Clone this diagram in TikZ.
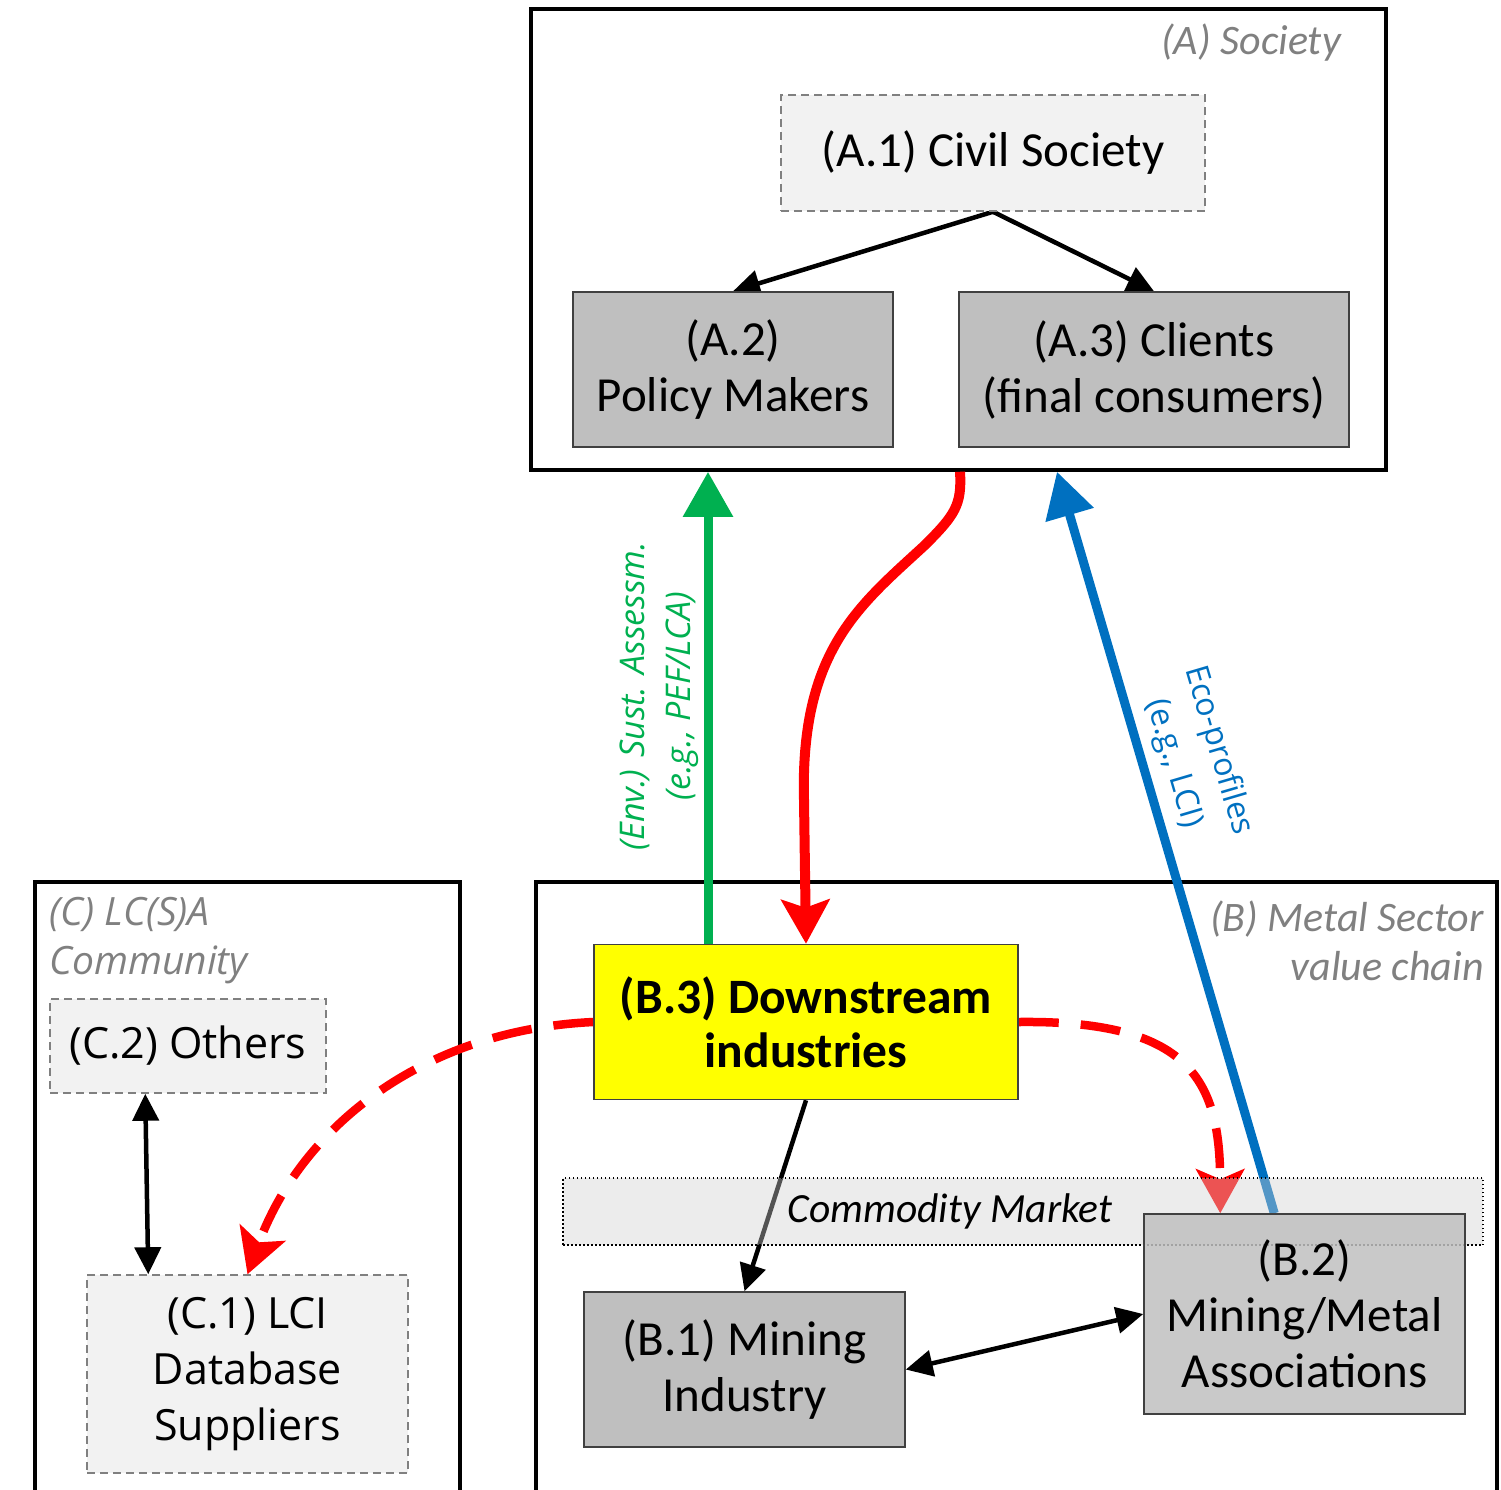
\documentclass[tikz,border=0pt]{standalone}
\usepackage{fontspec}
\setmainfont{Carlito}
\newfontfamily\osans{Open Sans}
\usetikzlibrary{arrows.meta,calc}
\definecolor{boxgray}{HTML}{BFBFBF}
\definecolor{lightbox}{HTML}{F2F2F2}
\definecolor{labgray}{HTML}{808080}
\definecolor{grn}{HTML}{00B050}
\definecolor{blu}{HTML}{0070C0}
\definecolor{bandfill}{HTML}{D0D0D0}
\definecolor{yel}{HTML}{FFFF00}
\pgfdeclarelayer{bg}
\pgfdeclarelayer{mid}
\pgfsetlayers{bg,mid,main}
\begin{document}
\begin{tikzpicture}[x=1pt,y=-1pt,
  graybox/.style={draw=black!75, line width=1.5pt, fill=boxgray, inner sep=0pt, align=center, font=\fontsize{49}{56}\selectfont},
  dashbox/.style={draw=labgray, dash pattern=on 8pt off 5pt, line width=1.5pt, fill=lightbox, inner sep=0pt, align=center},
  frame/.style={draw=black, line width=3.5pt},
  blk/.style={line width=4.5pt, -{Triangle[length=27pt,width=26pt]}},
  dblk/.style={line width=4.5pt, {Triangle[length=27pt,width=26pt]}-{Triangle[length=27pt,width=26pt]}},
  grplabel/.style={text=labgray, font=\fontsize{42}{49}\selectfont\itshape, inner sep=0pt},
  redsolid/.style={line width=10pt, red, -{Stealth[length=44pt,width=48pt,inset=8pt]}},
  reddash/.style={line width=8.5pt, red, dash pattern=on 40pt off 22pt, -{Stealth[length=44pt,width=48pt,inset=10pt]}},
  grnarrow/.style={line width=9pt, grn, -{Triangle[length=45pt,width=48pt]}},
  bluarrow/.style={line width=9pt, blu, -{Triangle[length=45pt,width=48pt]}},
]
\useasboundingbox (0,0) rectangle (1501,1489);

% ---- nodes (main layer)
\node[dashbox, minimum width=424pt, minimum height=116pt, font=\fontsize{49}{56}\selectfont] (a1) at (993,153) {(A.1) Civil Society};
\node[graybox, minimum width=320pt, minimum height=155pt] (a2) at (733,369.5) {(A.2)\\Policy Makers};
\node[graybox, minimum width=390pt, minimum height=155pt] (a3) at (1154,369.5) {(A.3) Clients\\(final consumers)};
\node[grplabel, anchor=east] (alab) at (1341,43) {(A) Society};

\node[graybox, fill=yel, minimum width=424pt, minimum height=155pt, font=\fontsize{49.5}{54}\selectfont\bfseries] (b3) at (806,1022) {(B.3) Downstream\\industries};
\node[graybox, minimum width=321pt, minimum height=155pt] (b1) at (744.5,1369.5) {(B.1) Mining\\Industry};
\node[graybox, minimum width=321pt, minimum height=200pt, fill opacity=0.85, text opacity=1] (b2) at (1304.5,1314) {(B.2)\\Mining/Metal\\Associations};
\node[grplabel, anchor=east, align=right] (blab) at (1484,941) {(B) Metal Sector\\value chain};

\node[dashbox, minimum width=276pt, minimum height=94pt, font=\osans\fontsize{43}{56}\selectfont] (c2) at (188,1046) {(C.2) Others};
\node[dashbox, minimum width=321pt, minimum height=198pt, font=\osans\fontsize{43}{56}\selectfont] (c1) at (247.5,1374) {(C.1) LCI\\Database\\Suppliers};
\node[text=labgray, font=\osans\itshape\fontsize{39}{49}\selectfont, anchor=west, align=left, inner sep=0pt] (clab) at (49,941) {(C) LC(S)A\\Community};

\node[rotate=90, text=grn, font=\osans\itshape\fontsize{34}{46}\selectfont, align=center, inner sep=0pt] (glab) at (659,696) {(Env.) Sust. Assessm.\\(e.g., PEF/LCA)};
\node[rotate=-73.6, text=blu, font=\osans\fontsize{32}{46}\selectfont, align=center, inner sep=0pt] (elab) at (1196,757) {Eco-profiles\\(e.g., LCI)};

\coordinate (gx) at (708,0);
\coordinate (rx) at (960,0);
\coordinate (bx) at (1057,0);

% ---- frames and connectors (background)
\begin{pgfonlayer}{bg}
\node[frame, minimum width=855pt, minimum height=461pt, inner sep=0pt] (boxA) at (958.5,239.5) {};
\draw[frame] (536,1495) -- (536,882) -- (1497,882) -- (1497,1495);
\draw[frame] (35,1495) -- (35,882) -- (460,882) -- (460,1495);

\draw[blk] (a1.south) -- (a2.north);
\draw[blk] (a1.south) -- (a3.north);
\draw[blk] (b3.south) -- (b1.north);
\draw[dblk] (b1.east) -- (b2.west);
\draw[dblk] ($(c2.south west)+(96,0)$) -- ($(c1.north west)+(62,0)$);

\draw[grnarrow] (b3.north -| gx) -- (boxA.south -| gx);
\draw[bluarrow] ($(b2.north west)+(131,0)$) -- (boxA.south -| bx);
\draw[redsolid] (boxA.south -| rx) .. controls (962,505) and (955,515) .. (925,545)
   .. controls (860,605) and (800,650) .. (804,800) -- (b3.north);
\draw[reddash] (b3.east) .. controls (1190,1020) and (1220,1080) .. ($(b2.north west)+(77,0)$);
\draw[reddash] (b3.west) .. controls (420,1030) and (300,1130) .. (c1.north);
\end{pgfonlayer}

% ---- commodity market band (semi-transparent, over connectors)
\begin{pgfonlayer}{mid}
\node[draw=black, dash pattern=on 1.5pt off 2.5pt, line width=1.3pt, fill=bandfill, fill opacity=0.4, draw opacity=1, minimum width=920pt, minimum height=67pt, inner sep=0pt] (band) at (1023,1211.5) {};
\node[font=\fontsize{41.5}{48}\selectfont\itshape, inner sep=0pt] (cm) at (950,1211) {Commodity Market};
\end{pgfonlayer}
\end{tikzpicture}
\end{document}
